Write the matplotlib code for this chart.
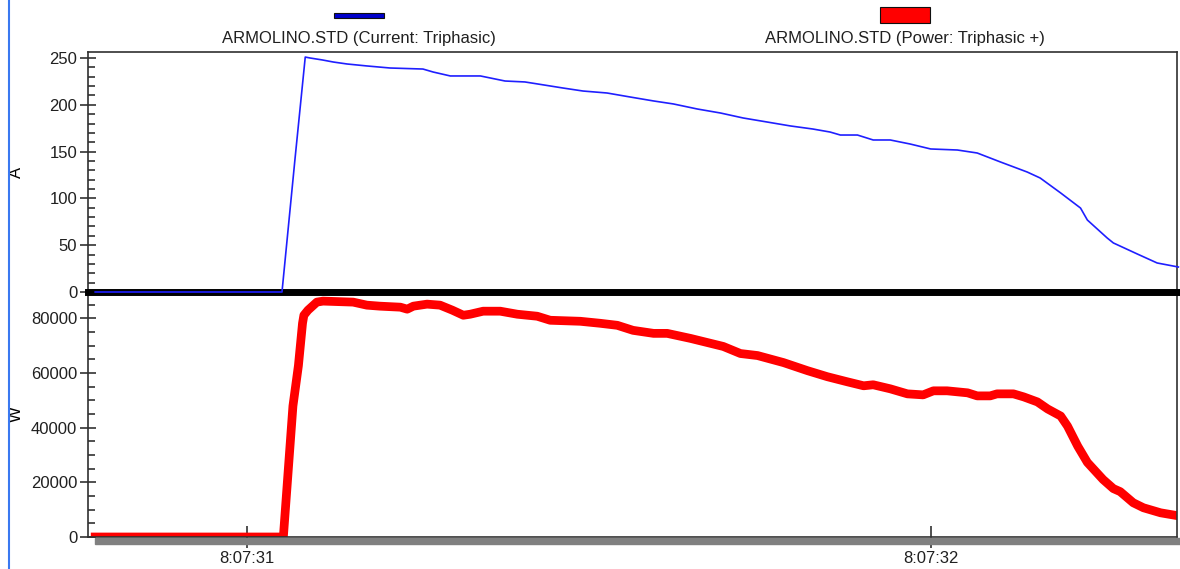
import matplotlib
matplotlib.use('Agg')
import matplotlib.pyplot as plt
from matplotlib.ticker import MultipleLocator, FixedLocator, FuncFormatter
from matplotlib.patches import Rectangle
from matplotlib.lines import Line2D

# time in seconds after 8:07:00
current_t = [30.778, 31.051, 31.070, 31.085, 31.092, 31.110, 31.126, 31.146, 31.175,
             31.209, 31.257, 31.272, 31.297, 31.341, 31.377, 31.406, 31.425, 31.461,
             31.491, 31.526, 31.560, 31.594, 31.623, 31.658, 31.692, 31.725, 31.760,
             31.794, 31.827, 31.852, 31.867, 31.892, 31.915, 31.940, 31.969, 31.999,
             32.038, 32.067, 32.101, 32.140, 32.159, 32.189, 32.218, 32.228, 32.257,
             32.266, 32.301, 32.330, 32.361]
current_a = [0, 0, 142, 251, 250, 247.9, 245.7, 243.6, 241.5,
             239.3, 238.2, 235, 230.8, 230.8, 225.4, 224.4, 222.2, 218,
             214.7, 212.6, 208.3, 204.1, 200.9, 195.5, 191.2, 185.9, 181.6,
             177.4, 174.1, 170.9, 167.7, 167.7, 162.4, 162.4, 158.1, 152.8,
             151.7, 148.5, 138.9, 128.2, 121.8, 105.8, 89.7, 76.9, 57.7,
             52.4, 40.6, 31.0, 26.7]

power_t = [30.778, 31.053, 31.067, 31.075, 31.081, 31.083, 31.089, 31.102, 31.111,
           31.155, 31.175, 31.194, 31.224, 31.234, 31.243, 31.263, 31.282, 31.300,
           31.316, 31.326, 31.345, 31.370, 31.395, 31.424, 31.443, 31.487, 31.516,
           31.541, 31.564, 31.594, 31.614, 31.648, 31.696, 31.721, 31.746, 31.784,
           31.819, 31.848, 31.877, 31.901, 31.915, 31.940, 31.965, 31.988, 32.003,
           32.023, 32.053, 32.067, 32.086, 32.096, 32.120, 32.135, 32.155, 32.170,
           32.189, 32.199, 32.214, 32.228, 32.251, 32.266, 32.276, 32.295, 32.310,
           32.335, 32.361]
power_w = [0, 0, 47900, 62670, 78160, 81100, 82950, 85900, 86270,
           85900, 84790, 84420, 84050, 83320, 84420, 85160, 84790, 82950,
           81100, 81470, 82580, 82580, 81470, 80740, 79260, 78890, 78160,
           77420, 75580, 74470, 74470, 72630, 69680, 67100, 66360, 63780,
           60830, 58620, 56770, 55300, 55670, 54190, 52350, 51980, 53460,
           53460, 52720, 51610, 51610, 52350, 52350, 51240, 49400, 46820,
           44240, 40550, 33180, 27280, 21010, 17700, 16590, 12530, 10690,
           8850, 7740]

time_ticks = [31, 32]
series_names = ['ARMOLINO.STD (Current: Triphasic)', 'ARMOLINO.STD (Power: Triphasic +)']

W, H = 1180, 569
plt.rcParams['font.family'] = ['Liberation Sans', 'DejaVu Sans']
plt.rcParams['font.size'] = 12
plt.rcParams['text.color'] = '#202020'
plt.rcParams['xtick.color'] = '#202020'
plt.rcParams['ytick.color'] = '#202020'


def box(x0, y0, x1, y1):
    return [x0 / W, 1 - y1 / H, (x1 - x0) / W, (y1 - y0) / H]


fig = plt.figure(figsize=(W / 100, H / 100), dpi=100)
ax2 = fig.add_axes(box(88, 292, 1177, 537))
ax1 = fig.add_axes(box(88, 52, 1177, 292), sharex=ax2)
ax1.patch.set_visible(False)

ax1.plot(current_t, current_a, color='#1f1fff', lw=1.2, zorder=3, clip_on=False)
ax2.plot(power_t, power_w, color='#ff0000', lw=6.3, zorder=2, solid_joinstyle='round')

ax1.set_xlim(30.7675, 32.359)
ax1.set_ylim(0, 256.4)
ax2.set_ylim(0, 89600)

for ax in (ax1, ax2):
    for s in ax.spines.values():
        s.set_color('#303030')
        s.set_linewidth(1.2)
    ax.tick_params(axis='y', which='major', direction='inout', length=11.5,
                   width=1.1, pad=2)
    ax.tick_params(axis='y', which='minor', direction='in', length=5, width=1.1)

ax1.spines['bottom'].set_color('black')
ax1.spines['bottom'].set_linewidth(5.0)
ax2.spines['top'].set_visible(False)
ax2.spines['bottom'].set_zorder(4)

ax1.yaxis.set_major_locator(MultipleLocator(50))
ax1.yaxis.set_minor_locator(MultipleLocator(10))
ax2.yaxis.set_major_locator(MultipleLocator(20000))
ax2.yaxis.set_minor_locator(MultipleLocator(5000))

ax1.tick_params(axis='x', which='both', bottom=False, labelbottom=False)
ax2.xaxis.set_major_locator(FixedLocator(time_ticks))
ax2.xaxis.set_major_formatter(FuncFormatter(lambda v, p: '8:07:%02d' % round(v)))
ax2.tick_params(axis='x', which='major', direction='inout', length=16, width=1.1, pad=2)

ax1.set_ylabel('A', labelpad=0)
ax2.set_ylabel('W', labelpad=0)
ax1.yaxis.set_label_coords(-64 / 1089, 0.5)
ax2.yaxis.set_label_coords(-64 / 1089, 0.5)

# shadow under the time axis
fig.patches.append(Rectangle((95 / W, 1 - 544 / H), (W - 95) / W, 6 / H,
                             transform=fig.transFigure, color='#808080', zorder=0))
fig.lines.append(Line2D([9 / W, 9 / W], [0, 1], transform=fig.transFigure,
                        color='#3a78f0', lw=1.5))

# legend swatches and labels
fig.patches.append(Rectangle((334 / W, 1 - 18 / H), 50 / W, 5 / H, transform=fig.transFigure,
                             facecolor='#0000cc', edgecolor='#101010', lw=0.8))
fig.patches.append(Rectangle((880 / W, 1 - 23 / H), 50 / W, 16 / H, transform=fig.transFigure,
                             facecolor='#ff0000', edgecolor='#101010', lw=0.8))
fig.text(359 / W, 1 - 38 / H, series_names[0], ha='center', va='center')
fig.text(905 / W, 1 - 39 / H, series_names[1], ha='center', va='center')

fig.savefig('out.png', dpi=100)
